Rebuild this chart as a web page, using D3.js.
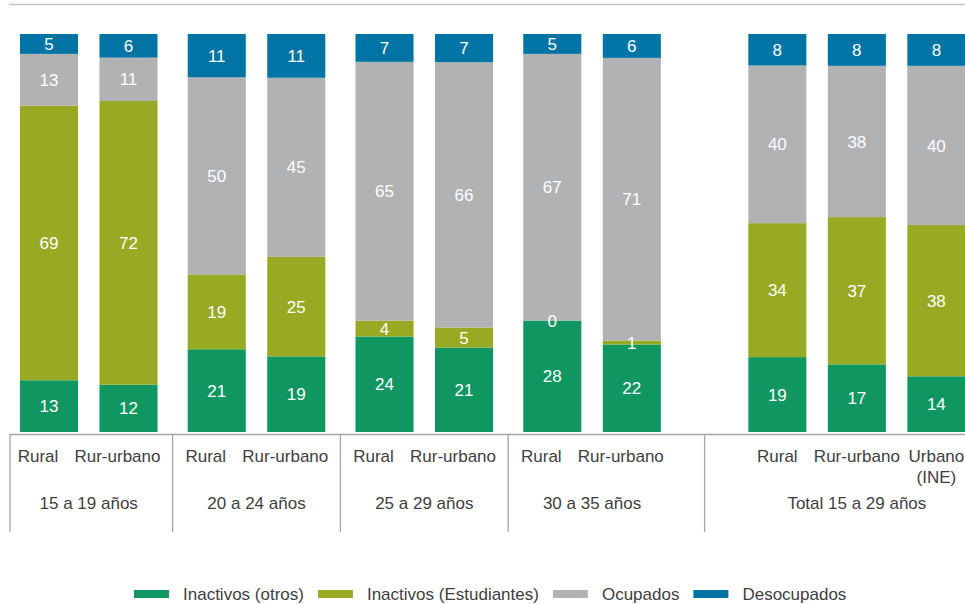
<!DOCTYPE html>
<html>
<head>
<meta charset="utf-8">
<script src="https://cdnjs.cloudflare.com/ajax/libs/d3/7.8.5/d3.min.js"></script>
<style>
  body { margin: 0; background: #fff; }
  svg { display: block; font-family: "Liberation Sans", Arial, sans-serif; }
</style>
</head>
<body>
<svg id="chart"></svg>
<script>
// data (percent of each group)
var groupNames = ["15 a 19 años", "20 a 24 años", "25 a 29 años", "30 a 35 años", "Total 15 a 29 años"];
var groupSizes = [2, 2, 2, 2, 3];
var barNames = ["Rural", "Rur-urbano", "Rural", "Rur-urbano", "Rural", "Rur-urbano",
                "Rural", "Rur-urbano", "Rural", "Rur-urbano", "Urbano\n(INE)"];
var seriesNames = ["Inactivos (otros)", "Inactivos (Estudiantes)", "Ocupados", "Desocupados"];
var inactivosOtros = [13, 12, 21, 19, 24, 21, 28, 22, 19, 17, 14];
var inactivosEstudiantes = [69, 72, 19, 25, 4, 5, 0, 1, 34, 37, 38];
var ocupados = [13, 11, 50, 45, 65, 66, 67, 71, 40, 38, 40];
var desocupados = [5, 6, 11, 11, 7, 7, 5, 6, 8, 8, 8];

var colors = ["#109660", "#98a923", "#b1b2b4", "#0074a4"];
var svgWidth = 965;
var svgHeight = 604;
var slotGap = 0.11;     // extra space between age groups (in bar slots)
var totalLead = 0.72;   // empty space before the "Total" group
var textColor = "#404040";

var svg = d3.select("#chart").attr("width", svgWidth).attr("height", svgHeight);

// one row per bar
var rows = [];
var k = 0;
groupSizes.forEach(function (n, g) {
    for (var j = 0; j < n; j++) {
        var row = {
            name: barNames[k],
            group: g,
            slot: k + g * slotGap + (g === groupSizes.length - 1 ? totalLead : 0)
        };
        row[seriesNames[0]] = inactivosOtros[k];
        row[seriesNames[1]] = inactivosEstudiantes[k];
        row[seriesNames[2]] = ocupados[k];
        row[seriesNames[3]] = desocupados[k];
        rows.push(row);
        k++;
    }
});

var x = d3.scaleLinear().domain([-0.49, 11.52]).range([10, svgWidth]);
var y = d3.scaleLinear().domain([0, 1]).range([432, 34]);
var color = d3.scaleOrdinal().domain(seriesNames).range(colors);
var barWidth = (x(1) - x(0)) * 0.73;

var stacked = d3.stack().keys(seriesNames).offset(d3.stackOffsetExpand)(rows);

// top rule
svg.append("line")
    .attr("x1", 9).attr("x2", svgWidth)
    .attr("y1", 4.5).attr("y2", 4.5)
    .attr("stroke", "#c2c2c2")
    .attr("stroke-width", 1.5);

var layers = svg.append("g").selectAll("g")
    .data(stacked)
    .enter()
    .append("g")
    .attr("fill", function (s) { return color(s.key); });

layers.selectAll("rect")
    .data(function (s) { return s; })
    .enter()
    .append("rect")
    .attr("x", function (d) { return x(d.data.slot) - barWidth / 2; })
    .attr("width", barWidth)
    .attr("y", function (d) { return y(d[1]); })
    .attr("height", function (d) { return y(d[0]) - y(d[1]); });

// value labels
var labels = svg.append("g")
    .attr("fill", "#fff")
    .attr("font-size", 17)
    .attr("text-anchor", "middle");
stacked.forEach(function (s) {
    labels.selectAll(null)
        .data(s)
        .enter()
        .append("text")
        .attr("x", function (d) { return x(d.data.slot); })
        .attr("y", function (d) { return (y(d[0]) + y(d[1])) / 2; })
        .attr("dy", "0.36em")
        .text(function (d) { return d.data[s.key]; });
});

// category table under the bars
var axis = svg.append("g").attr("stroke", "#a6a6a6").attr("stroke-width", 1.3);
axis.append("line")
    .attr("x1", 10).attr("x2", svgWidth)
    .attr("y1", 434.5).attr("y2", 434.5);

var dividers = [x(rows[0].slot - 0.49)];
for (var i = 1; i < rows.length; i++) {
    if (rows[i].group !== rows[i - 1].group) {
        dividers.push((x(rows[i - 1].slot) + x(rows[i].slot)) / 2);
    }
}
axis.selectAll(null)
    .data(dividers)
    .enter()
    .append("line")
    .attr("x1", function (d) { return d; })
    .attr("x2", function (d) { return d; })
    .attr("y1", 434)
    .attr("y2", 532);

var lastGroup = groupSizes.length - 1;
var catLabels = svg.append("g")
    .attr("fill", textColor)
    .attr("font-size", 17)
    .attr("text-anchor", "middle");
catLabels.selectAll("text")
    .data(rows)
    .enter()
    .append("text")
    .attr("transform", function (d) {
        var cx = x(d.slot) + (d.group === lastGroup ? 0 : -11);
        return "translate(" + cx + ",462)";
    })
    .each(function (d) {
        var t = d3.select(this);
        d.name.split("\n").forEach(function (line, li) {
            t.append("tspan").attr("x", 0).attr("y", li * 21).text(line);
        });
    });

catLabels.selectAll(null)
    .data(groupNames)
    .enter()
    .append("text")
    .attr("x", function (g, gi) {
        return d3.mean(rows.filter(function (r) { return r.group === gi; }), function (r) { return x(r.slot); });
    })
    .attr("y", 509)
    .text(function (g) { return g; });

// legend
var legend = svg.append("g").attr("transform", "translate(134,594)");
var lx = 0;
seriesNames.forEach(function (name) {
    legend.append("rect")
        .attr("x", lx).attr("y", -4)
        .attr("width", 35).attr("height", 8)
        .attr("fill", color(name));
    var t = legend.append("text")
        .attr("x", lx + 49)
        .attr("dy", "0.36em")
        .attr("font-size", 17)
        .attr("fill", textColor)
        .text(name);
    lx += 49 + t.node().getComputedTextLength() + 14;
});
</script>
</body>
</html>
